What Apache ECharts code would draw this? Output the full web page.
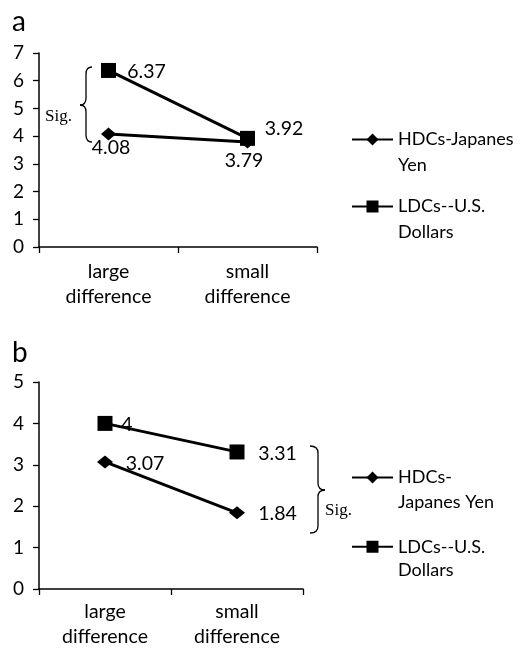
<!DOCTYPE html>
<html><head><meta charset="utf-8">
<script src="https://cdn.jsdelivr.net/npm/echarts@6/dist/echarts.min.js"></script>
<style>html,body{margin:0;padding:0;background:#fff}#c{width:522px;height:649px}</style>
</head><body><div id="c"></div>
<script>
// ---- data ----
const categories = ['large\ndifference', 'small\ndifference'];
const seriesNames = ['HDCs-Japanes Yen', 'LDCs--U.S. Dollars'];
const yenA = [4.08, 3.79];
const usdA = [6.37, 3.92];
const yenB = [3.07, 1.84];
const usdB = [4, 3.31];
const yMaxA = 7;
const yMaxB = 5;

// ---- label placement (layout only) ----
const offYenA = [[2.5, 14], [-3.5, 19]];
const offUsdA = [[38, 1.5], [36.5, -10]];
const offYenB = [[40, 2], [40.5, 1]];
const offUsdB = [[22, 1], [40.5, 2]];

const FONT = 'Lato';
const withLabels = (vals, offs) => vals.map((v, i) => ({ value: v, label: { offset: offs[i] } }));

function xAxis(gridIndex, margin) {
  return {
    type: 'category', gridIndex, data: categories, boundaryGap: true,
    axisLine: { lineStyle: { color: '#000', width: 1.5 } },
    axisTick: { show: true, length: 6, alignWithLabel: false, lineStyle: { color: '#000', width: 1.3 } },
    axisLabel: { color: '#000', fontFamily: FONT, fontSize: 19.5, lineHeight: 25, margin, interval: 0 }
  };
}
function yAxis(gridIndex, max) {
  return {
    type: 'value', gridIndex, min: 0, max, interval: 1,
    splitLine: { show: false },
    axisLine: { show: true, lineStyle: { color: '#000', width: 1.5 } },
    axisTick: { show: true, length: 6, lineStyle: { color: '#000', width: 1.3 } },
    axisLabel: { color: '#000', fontFamily: FONT, fontSize: 19, margin: 15 }
  };
}
function series(name, idx, vals, offs, symbol, size, lw) {
  return {
    type: 'line', name, xAxisIndex: idx, yAxisIndex: idx,
    data: withLabels(vals, offs),
    symbol, symbolSize: size,
    lineStyle: { color: '#000', width: lw },
    itemStyle: { color: '#000' },
    label: { show: true, position: 'inside', color: '#000', fontFamily: FONT, fontSize: 19.5 },
    z: symbol === 'rect' ? 3 : 2
  };
}
function legend(name, text, top, lh) {
  return {
    data: [name], left: 351, top, orient: 'vertical', padding: 0,
    itemWidth: 41, itemHeight: 15, selectedMode: false,
    formatter: () => '\n' + text,
    textStyle: { color: '#000', fontFamily: FONT, fontSize: 18, lineHeight: lh }
  };
}
// curly brace built from quadratic curves and lines
function brace(xEnd, xMid, xTip, yTop, yTip, yBot, r) {
  const st = { fill: null, stroke: '#000', lineWidth: 1.3 };
  const bz = (x1, y1, cx, cy, x2, y2) => ({ type: 'bezierCurve', shape: { x1, y1, cpx1: cx, cpy1: cy, x2, y2 }, style: st, silent: true });
  const ln = (x1, y1, x2, y2) => ({ type: 'line', shape: { x1, y1, x2, y2 }, style: st, silent: true });
  return [
    bz(xEnd, yTop, xMid, yTop, xMid, yTop + r),
    ln(xMid, yTop + r, xMid, yTip - r),
    bz(xMid, yTip - r, xMid, yTip, xTip, yTip),
    bz(xTip, yTip, xMid, yTip, xMid, yTip + r),
    ln(xMid, yTip + r, xMid, yBot - r),
    bz(xMid, yBot - r, xMid, yBot, xEnd, yBot)
  ];
}

const chart = echarts.init(document.getElementById('c'), null, { renderer: 'canvas' });
chart.setOption({
  animation: false,
  backgroundColor: '#fff',
  title: [
    { text: 'a', left: 7, top: 3, textStyle: { fontFamily: FONT, fontSize: 28, fontWeight: 'normal', color: '#000' } },
    { text: 'b', left: 7, top: 334, textStyle: { fontFamily: FONT, fontSize: 28, fontWeight: 'normal', color: '#000' } }
  ],
  grid: [
    { left: 39, top: 53, width: 278, height: 194 },
    { left: 39, top: 382, width: 264, height: 211 }
  ],
  xAxis: [xAxis(0, 12), xAxis(1, 10)],
  yAxis: [yAxis(0, yMaxA), yAxis(1, yMaxB)],
  legend: [
    legend(seriesNames[0], 'HDCs-Japanes\nYen', 140 - 39.5, 26),
    legend(seriesNames[1], 'LDCs--U.S.\nDollars', 207 - 39.5, 26),
    legend(seriesNames[0], 'HDCs-\nJapanes Yen', 478 - 38, 25),
    legend(seriesNames[1], 'LDCs--U.S.\nDollars', 547 - 35.5, 23.5)
  ],
  series: [
    series(seriesNames[0], 0, yenA, offYenA, 'diamond', [15, 13], 3),
    series(seriesNames[1], 0, usdA, offUsdA, 'rect', 15, 3),
    series(seriesNames[0], 1, yenB, offYenB, 'diamond', [16, 13], 2.8),
    series(seriesNames[1], 1, usdB, offUsdB, 'rect', 15, 2.8)
  ],
  graphic: [
    ...brace(92, 86, 80, 67, 105, 142, 7),
    { type: 'text', left: 45, top: 108, style: { text: 'Sig.', font: '17px "Liberation Serif"', fill: '#000' } },
    ...brace(310, 318, 325, 446, 490, 533, 7),
    { type: 'text', left: 325, top: 502, style: { text: 'Sig.', font: '17px "Liberation Serif"', fill: '#000' } }
  ]
});
</script>
</body></html>
